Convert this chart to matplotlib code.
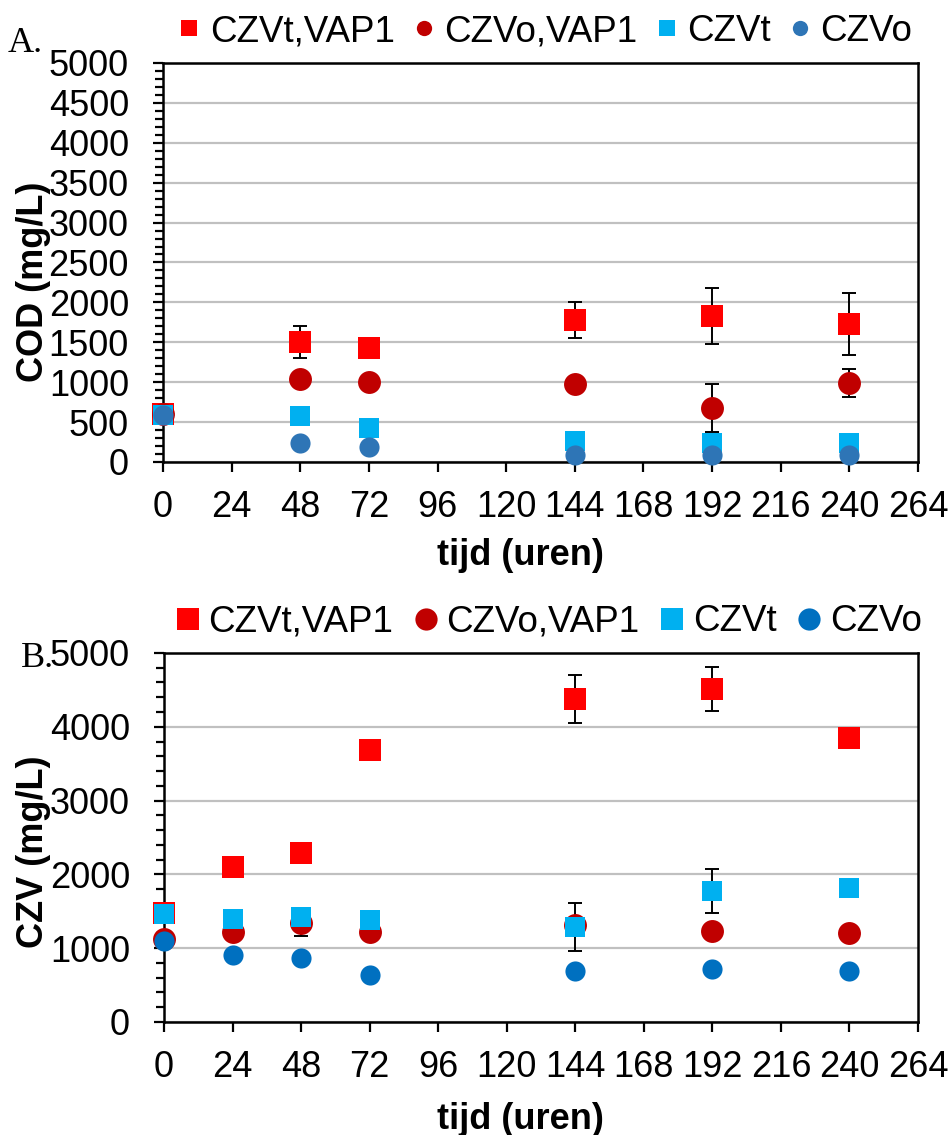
import numpy as np
import matplotlib.pyplot as plt
from matplotlib.ticker import MultipleLocator
from matplotlib.lines import Line2D

plt.rcParams['font.family'] = ['Liberation Sans', 'DejaVu Sans']

series_names = ['CZVt,VAP1', 'CZVo,VAP1', 'CZVt', 'CZVo']
x_ticks = list(range(0, 265, 24))

# panel A: COD (mg/L)
hours_a = [0, 48, 72, 144, 192, 240]
cod_t_vap = [600, 1500, 1425, 1775, 1830, 1730]
cod_t_vap_err = [0, 200, 0, 225, 355, 390]
cod_o_vap = [600, 1045, 1005, 975, 675, 990]
cod_o_vap_err = [0, 0, 0, 0, 300, 175]
cod_t = [590, 580, 420, 262, 237, 237]
cod_t_err = [0, 0, 0, 0, 0, 0]
cod_o = [590, 242, 184, 88, 88, 88]
cod_o_err = [0, 0, 0, 0, 0, 0]

# panel B: CZV (mg/L)
hours_b = [0, 24, 48, 72, 144, 192, 240]
czv_t_vap = [1470, 2105, 2295, 3685, 4375, 4510, 3850]
czv_t_vap_err = [0, 0, 0, 0, 320, 300, 0]
czv_o_vap = [1130, 1225, 1335, 1225, 1310, 1235, 1205]
czv_o_vap_err = [0, 0, 170, 0, 0, 0, 0]
czv_t = [1465, 1395, 1420, 1380, 1290, 1775, 1815]
czv_t_err = [0, 0, 0, 0, 325, 295, 30]
czv_o = [1100, 910, 865, 640, 695, 715, 685]
czv_o_err = [0, 0, 0, 0, 0, 0, 0]

FS = 26


def draw_series(ax, x, y, err, marker, color, size):
    err = np.array(err)
    mask = err > 0
    if mask.any():
        ax.errorbar(np.array(x)[mask], np.array(y)[mask], yerr=err[mask],
                    fmt='none', ecolor='black', elinewidth=1.4, capsize=5,
                    capthick=1.4, zorder=2, clip_on=False)
    ax.plot(x, y, linestyle='none', marker=marker, color=color, ms=size,
            mew=0, zorder=3, clip_on=False)


def style_axes(ax, major, minor):
    ax.set_xlim(0, 264)
    ax.set_ylim(0, 5000)
    ax.set_xticks(x_ticks)
    ax.yaxis.set_major_locator(MultipleLocator(major))
    ax.yaxis.set_minor_locator(MultipleLocator(minor))
    ax.grid(axis='y', color='#c0c0c0', linewidth=1.6, zorder=0)
    ax.set_axisbelow(True)
    for s in ax.spines.values():
        s.set_linewidth(1.8)
    ax.tick_params(axis='x', which='major', direction='out', length=7.5,
                   width=1.6, labelsize=FS, pad=13)
    ax.tick_params(axis='y', which='major', direction='out', length=7.5,
                   width=1.6, labelsize=FS, pad=17)
    ax.tick_params(axis='y', which='minor', direction='out', length=6,
                   width=1.6)
    ax.tick_params(axis='x', which='minor', bottom=False)


def add_legend(fig, colors, msize, y, x, spacing):
    markers = ['s', 'o', 's', 'o']
    handles = [Line2D([], [], linestyle='none', marker=m, color=c, ms=msize, mew=0)
               for m, c in zip(markers, colors)]
    fig.legend(handles, series_names, loc='center', bbox_to_anchor=(x, y),
               ncol=4, frameon=False, fontsize=26.5, handlelength=0.6,
               handletextpad=0.25, columnspacing=spacing, borderpad=0,
               borderaxespad=0)


fig = plt.figure(figsize=(9.5, 11.35), dpi=100)

ax1 = fig.add_axes([0.1716, 0.5930, 0.7947, 0.3515])
draw_series(ax1, hours_a, cod_t_vap, cod_t_vap_err, 's', '#ff0000', 16)
draw_series(ax1, hours_a, cod_o_vap, cod_o_vap_err, 'o', '#c00000', 16.5)
draw_series(ax1, hours_a, cod_t, cod_t_err, 's', '#00b0f0', 14.5)
draw_series(ax1, hours_a, cod_o, cod_o_err, 'o', '#2e75b6', 14.5)
style_axes(ax1, 500, 100)

ax2 = fig.add_axes([0.1726, 0.0996, 0.7937, 0.3251])
draw_series(ax2, hours_b, czv_t_vap, czv_t_vap_err, 's', '#ff0000', 16)
draw_series(ax2, hours_b, czv_o_vap, czv_o_vap_err, 'o', '#c00000', 16.5)
draw_series(ax2, hours_b, czv_t, czv_t_err, 's', '#00b0f0', 14.5)
draw_series(ax2, hours_b, czv_o, czv_o_err, 'o', '#0070c0', 14.5)
style_axes(ax2, 1000, 200)

# axis titles
fig.text(0.035, 0.752, 'COD (mg/L)', rotation=90, fontsize=FS,
         fontweight='bold', ha='center', va='center')
fig.text(0.548, 0.511, 'tijd (uren)', fontsize=FS, fontweight='bold',
         ha='center', va='center')
fig.text(0.035, 0.25, 'CZV (mg/L)', rotation=90, fontsize=FS,
         fontweight='bold', ha='center', va='center')
fig.text(0.548, 0.014, 'tijd (uren)', fontsize=FS, fontweight='bold',
         ha='center', va='center')

# panel letters
fig.text(0.008, 0.962, 'A.', fontsize=FS, family='Liberation Serif',
         ha='left', va='center')
fig.text(0.022, 0.420, 'B.', fontsize=FS, family='Liberation Serif',
         ha='left', va='center')

# legends
add_legend(fig, ['#ff0000', '#c00000', '#00b0f0', '#2e75b6'], 11, 0.972, 0.574, 0.5)
add_legend(fig, ['#ff0000', '#c00000', '#00b0f0', '#0070c0'], 16, 0.452, 0.578, 0.6)

fig.savefig('out.png', dpi=100)
